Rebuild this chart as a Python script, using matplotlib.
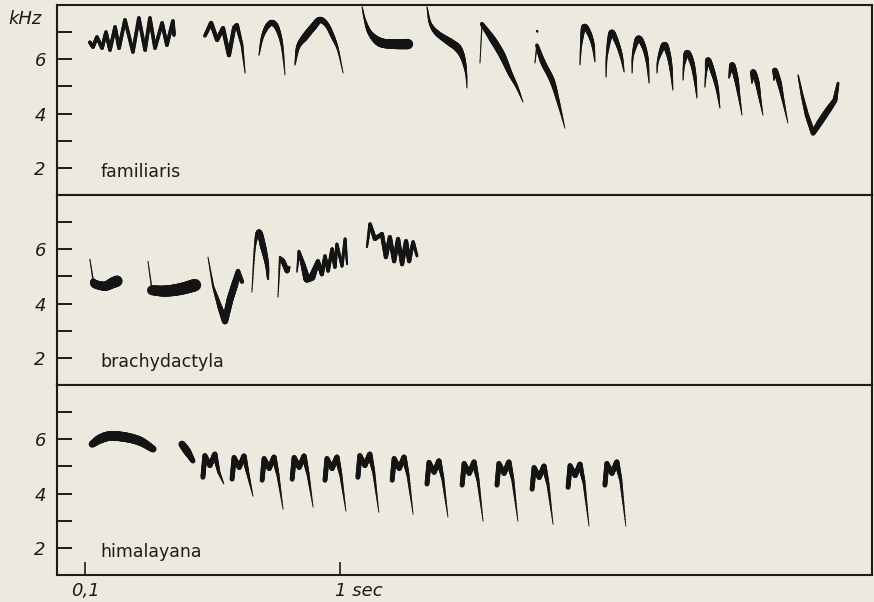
import numpy as np
import matplotlib
matplotlib.use('Agg')
import matplotlib.pyplot as plt
from matplotlib.collections import LineCollection

BG = '#ECE9DE'
INK = '#141414'

species = ['familiaris', 'brachydactyla', 'himalayana']
y_ticks = [2, 3, 4, 5, 6, 7]
y_ticklabels = ['2', '', '4', '', '6', '']
x_ticks = [0.1, 1.0]
x_ticklabels = ['0,1', '1 sec']

# ---- familiaris: strokes as (time s, frequency kHz, width pt, smooth) ----
fam_trill_t = [0.116, 0.127, 0.141, 0.159, 0.173, 0.187, 0.205, 0.219, 0.240, 0.268,
               0.289, 0.311, 0.328, 0.346, 0.371, 0.388, 0.409, 0.413]
fam_trill_f = [6.63, 6.45, 6.82, 6.41, 7.00, 6.34, 7.19, 6.41, 7.45, 6.27,
               7.52, 6.34, 7.52, 6.41, 7.34, 6.52, 7.41, 6.89]

fam_strokes = [
    (fam_trill_t, fam_trill_f, [2.6] * 18, False),
    ([0.522, 0.544, 0.565, 0.586, 0.607, 0.625, 0.635, 0.653, 0.664],
     [6.86, 7.34, 6.71, 7.15, 6.15, 7.15, 7.26, 6.52, 5.49],
     [2.5, 3, 3, 3, 3, 3, 3, 2, 0.7], False),
    ([0.713, 0.724, 0.741, 0.759, 0.777, 0.794, 0.805],
     [6.15, 6.78, 7.19, 7.34, 7.15, 6.52, 5.42],
     [0.8, 2, 3.5, 4.5, 3.5, 2, 0.6], True),
    ([0.840, 0.851, 0.875, 0.904, 0.928, 0.953, 0.974, 0.992, 1.010],
     [5.79, 6.45, 6.82, 7.19, 7.45, 7.26, 6.82, 6.34, 5.49],
     [0.8, 3, 5, 5, 4.5, 3.5, 3, 1.5, 0.6], True),
    ([1.077, 1.087, 1.105, 1.140, 1.186, 1.239],
     [7.93, 7.45, 6.97, 6.63, 6.56, 6.56],
     [0.8, 1.5, 3.5, 6.5, 7, 7.5], True),
    ([1.306, 1.317, 1.341, 1.387, 1.415, 1.433, 1.444, 1.447],
     [7.93, 7.34, 6.97, 6.63, 6.41, 6.04, 5.49, 4.94],
     [0.8, 2, 4, 5.5, 5.5, 3.5, 1.5, 0.6], True),
    ([1.493, 1.500], [5.86, 7.26], [0.7, 0.9], False),
    ([1.500, 1.539, 1.571, 1.599, 1.624, 1.645],
     [7.30, 6.71, 6.15, 5.49, 4.97, 4.42],
     [3, 5, 5, 3.5, 2, 0.6], True),
    ([1.687, 1.694], [5.86, 6.52], [0.7, 1], False),
    ([1.694, 1.715, 1.747, 1.768, 1.793],
     [6.52, 5.90, 5.23, 4.49, 3.46],
     [2.5, 4, 4, 2.5, 0.6], True),
    ([1.694, 1.696], [7.04, 7.02], [1.2, 1.2], False),
    # descending series of arches
    ([1.846, 1.850, 1.860, 1.878, 1.892, 1.899], [5.79, 6.52, 7.19, 6.97, 6.52, 5.90],
     [0.7, 1.5, 4, 3.5, 2.5, 0.7], True),
    ([1.938, 1.941, 1.956, 1.973, 1.991, 2.002], [5.34, 6.15, 6.97, 6.71, 6.15, 5.53],
     [0.7, 1.5, 4, 3.5, 2.5, 0.7], True),
    ([2.030, 2.033, 2.051, 2.069, 2.083, 2.090], [5.49, 6.15, 6.75, 6.52, 5.97, 5.12],
     [0.7, 1.5, 4.5, 3.5, 2.5, 0.7], True),
    ([2.118, 2.122, 2.143, 2.157, 2.167, 2.174], [5.49, 5.97, 6.52, 6.23, 5.68, 4.86],
     [0.7, 1.5, 4.5, 3.5, 2.5, 0.7], True),
    ([2.210, 2.213, 2.224, 2.241, 2.252, 2.259], [5.23, 5.79, 6.23, 5.90, 5.31, 4.57],
     [0.7, 1.5, 4.5, 3.5, 2.5, 0.7], True),
    ([2.287, 2.291, 2.298, 2.315, 2.330, 2.340], [4.97, 5.53, 5.97, 5.53, 4.94, 4.20],
     [0.7, 1.5, 4, 3.5, 2.5, 0.7], True),
    ([2.372, 2.383, 2.397, 2.407, 2.418], [5.31, 5.79, 5.31, 4.68, 3.94],
     [1, 4, 3.5, 2, 0.6], True),
    ([2.453, 2.457, 2.471, 2.481, 2.492], [5.12, 5.53, 5.16, 4.57, 3.94],
     [1, 4, 3.5, 2, 0.6], True),
    ([2.531, 2.534, 2.549, 2.563, 2.580], [5.23, 5.60, 5.16, 4.49, 3.65],
     [1, 3.5, 3.5, 2, 0.6], True),
    ([2.616, 2.630, 2.647, 2.669, 2.693, 2.722, 2.746, 2.757],
     [5.42, 4.68, 3.94, 3.28, 3.68, 4.13, 4.49, 5.12],
     [1, 2, 3, 3.5, 4.5, 4.5, 3.5, 2], False),
]

# ---- brachydactyla ----
bra_strokes = [
    ([0.116, 0.127], [5.64, 4.90], [0.7, 1], False),
    ([0.127, 0.134, 0.169, 0.194, 0.212], [4.85, 4.72, 4.64, 4.75, 4.83],
     [3, 6, 6.5, 7.5, 8], True),
    ([0.321, 0.335], [5.56, 4.53], [0.7, 1], False),
    ([0.335, 0.381, 0.434, 0.487], [4.49, 4.46, 4.53, 4.68], [7, 8, 8.5, 9], True),
    ([0.533, 0.551, 0.575, 0.593, 0.611, 0.628, 0.639, 0.653],
     [5.71, 4.64, 3.87, 3.35, 4.16, 4.72, 5.20, 4.80],
     [0.7, 1.5, 3.5, 4.5, 5, 5, 3, 3], False),
    ([0.688, 0.699, 0.713, 0.727, 0.741, 0.745], [4.42, 6.12, 6.63, 6.12, 5.45, 4.90],
     [0.7, 1.5, 4, 4.5, 3, 1.5], True),
    ([0.780, 0.787, 0.798, 0.812, 0.819], [4.24, 5.71, 5.56, 5.20, 5.34],
     [0.7, 1.5, 3.5, 3.5, 2], False),
    ([0.847, 0.854, 0.868, 0.882, 0.900, 0.921, 0.935, 0.946, 0.957, 0.971, 0.981,
      0.988, 1.006, 1.017, 1.024],
     [5.16, 5.93, 5.45, 4.90, 4.97, 5.56, 5.08, 5.75, 5.20, 6.01, 5.34, 6.19, 5.38,
      6.38, 5.45],
     [1, 2, 3.5, 5, 5, 3, 3, 2.5, 2.5, 2.5, 2.5, 2.2, 2.2, 2.2, 1.5], False),
    ([1.094, 1.105, 1.122, 1.147, 1.161, 1.175, 1.190, 1.204, 1.218, 1.232, 1.243,
      1.257, 1.271],
     [6.08, 6.93, 6.38, 6.56, 5.71, 6.45, 5.56, 6.38, 5.45, 6.30, 5.56, 6.27, 5.75],
     [1.5, 2.5, 3, 3, 3, 3, 3, 3, 3, 3, 3, 2.5, 2], False),
]

# ---- himalayana ----
him_strokes = [
    ([0.124, 0.152, 0.187, 0.240, 0.293, 0.339], [5.82, 6.01, 6.12, 6.08, 5.93, 5.64],
     [5, 6.5, 7, 7, 6.5, 5], True),
    ([0.441, 0.459, 0.480], [5.82, 5.56, 5.20], [5, 5.5, 3.5], True),
]
# repeated "M" syllables: onset time, peak frequency, end frequency of the tail
him_m_onset = [0.515, 0.618, 0.724, 0.830, 0.946, 1.062, 1.183, 1.306, 1.430,
               1.553, 1.677, 1.804, 1.934]
him_m_peak = [5.45, 5.38, 5.34, 5.38, 5.34, 5.45, 5.34, 5.20, 5.16, 5.16, 5.01, 5.08, 5.16]
him_m_tail = [4.35, 3.90, 3.42, 3.50, 3.35, 3.31, 3.24, 3.13, 2.98, 2.98, 2.87, 2.80, 2.80]

# shape of one "M" element (rendering template)
M_DT = [0.0, 0.007, 0.025, 0.042, 0.056, 0.074]
M_DF = [-0.85, -0.05, -0.42, 0.0, -0.66]
M_W = [3.5, 3.5, 3.5, 3.8, 2.2, 0.6]


def catmull(x, y, n):
    x = np.asarray(x, float)
    y = np.asarray(y, float)
    px = np.concatenate([[2 * x[0] - x[1]], x, [2 * x[-1] - x[-2]]])
    py = np.concatenate([[2 * y[0] - y[1]], y, [2 * y[-1] - y[-2]]])
    ox, oy = [], []
    for i in range(1, len(px) - 2):
        u = np.linspace(0, 1, n, endpoint=False)
        for arr, out in ((px, ox), (py, oy)):
            p0, p1, p2, p3 = arr[i - 1], arr[i], arr[i + 1], arr[i + 2]
            out.append(0.5 * ((2 * p1) + (-p0 + p2) * u +
                              (2 * p0 - 5 * p1 + 4 * p2 - p3) * u ** 2 +
                              (-p0 + 3 * p1 - 3 * p2 + p3) * u ** 3))
    ox.append([x[-1]])
    oy.append([y[-1]])
    return np.concatenate(ox), np.concatenate(oy)


def draw_stroke(ax, t, f, w, smooth, n=14):
    t = np.asarray(t, float)
    f = np.asarray(f, float)
    w = np.asarray(w, float)
    s = np.linspace(0, len(t) - 1, (len(t) - 1) * n + 1)
    if smooth and len(t) > 2:
        tt, ff = catmull(t, f, n)
    else:
        tt = np.interp(s, np.arange(len(t)), t)
        ff = np.interp(s, np.arange(len(t)), f)
    ww = np.interp(s, np.arange(len(w)), w)
    pts = np.column_stack([tt, ff]).reshape(-1, 1, 2)
    segs = np.concatenate([pts[:-1], pts[1:]], axis=1)
    lw = (ww[:-1] + ww[1:]) / 2
    lc = LineCollection(segs, linewidths=lw, colors=INK, capstyle='round',
                        joinstyle='round')
    ax.add_collection(lc)


fig = plt.figure(figsize=(8.74, 6.02), dpi=100, facecolor=BG)
W, H = 874, 602
left_px, right_px, top_px, bottom_px = 57, 872, 5, 575
ph = (bottom_px - top_px) / 3
axes = []
for i in range(3):
    y0 = top_px + ph * (i + 1)
    ax = fig.add_axes([left_px / W, 1 - y0 / H, (right_px - left_px) / W, ph / H])
    ax.set_facecolor(BG)
    ax.set_xlim(0, (right_px - left_px) / 283.3)
    ax.set_ylim(1, 8)
    for sp in ax.spines.values():
        sp.set_linewidth(1.5)
        sp.set_color('#1c1c1c')
    ax.set_yticks(y_ticks)
    ax.set_yticklabels(y_ticklabels)
    ax.tick_params(axis='y', direction='in', length=10.5, width=1.4, pad=8,
                   labelsize=13, colors='#1c1c1c')
    for lbl in ax.get_yticklabels():
        lbl.set_fontstyle('italic')
    ax.text(0.153, 1.65, species[i], fontsize=12.5, color='#1c1c1c',
            va='baseline', ha='left')
    axes.append(ax)

for t, f, w, sm in fam_strokes:
    draw_stroke(axes[0], t, f, w, sm)
for t, f, w, sm in bra_strokes:
    draw_stroke(axes[1], t, f, w, sm)
for t, f, w, sm in him_strokes:
    draw_stroke(axes[2], t, f, w, sm)
for t0, fp, ft in zip(him_m_onset, him_m_peak, him_m_tail):
    tt = [t0 + d for d in M_DT]
    ff = [fp + d for d in M_DF] + [ft]
    draw_stroke(axes[2], tt, ff, M_W, False)

for ax in axes[:2]:
    ax.set_xticks([])

ax = axes[2]
ax.set_xticks(x_ticks)
ax.set_xticklabels([x_ticklabels[0], ''])
ax.tick_params(axis='x', direction='in', length=9.5, width=1.2, pad=5,
               labelsize=13, colors='#1c1c1c')
for lbl in ax.get_xticklabels():
    lbl.set_fontstyle('italic')
ax.annotate(x_ticklabels[1], xy=(x_ticks[1], 0), xycoords=('data', 'axes fraction'),
            xytext=(-4, -5), textcoords='offset points', ha='left', va='top',
            fontsize=13, fontstyle='italic', color='#1c1c1c')

fig.text(25 / W, 1 - 19 / H, 'kHz', fontsize=13, fontstyle='italic',
         ha='center', va='center', color='#1c1c1c')

fig.savefig('out.png', dpi=100, facecolor=BG)
